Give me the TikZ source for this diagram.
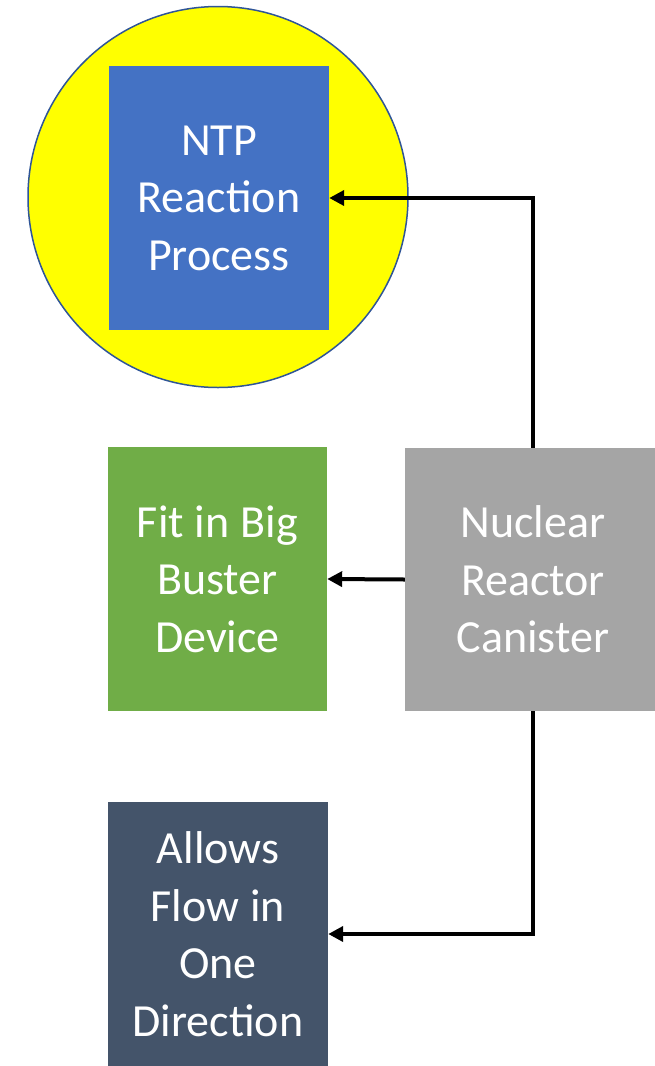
\documentclass[tikz,border=0pt]{standalone}
\usepackage{fontspec}
\setmainfont{Carlito}
\usetikzlibrary{arrows.meta,shapes.geometric}
\definecolor{procblue}{HTML}{4472C4}
\definecolor{fitgreen}{HTML}{70AD47}
\definecolor{canistergray}{HTML}{A5A5A5}
\definecolor{flowslate}{HTML}{44546A}
\definecolor{ringblue}{HTML}{2F5597}
\definecolor{ringfill}{HTML}{FFFF00}
% fixed word gap for the box labels
\newcommand{\wgap}{\hspace{0.24em}}
\tikzset{
  block/.style={inner sep=0pt, minimum width=220pt, minimum height=264pt,
    text=white, align=center, text width=210pt,
    font=\fontsize{46}{57.5}\selectfont},
  link/.style={line width=4pt, -{Triangle[length=15pt,width=15pt]}},
}
\begin{document}
\begin{tikzpicture}[x=1pt,y=-1pt]
  \useasboundingbox (0,0) rectangle (654,1066);
  % highlighted process
  \node[ellipse, draw=ringblue, line width=1.5pt, fill=ringfill,
        minimum width=380pt, minimum height=381pt, inner sep=0pt] (ring) at (218,197) {};
  \node[block, fill=procblue] (ntp) at (219,198) {NTP\\Reaction\\Process};
  % requirements
  \node[block, fill=fitgreen, minimum width=219pt] (fit) at (217.5,579) {Fit\wgap in\wgap Big\\Buster\\Device};
  \node[block, fill=flowslate] (flow) at (218,934) {Allows\\Flow\wgap in\\One\\Direction};
  % source (runs past the right edge)
  \node[block, fill=canistergray, minimum width=256pt, minimum height=263pt, text width=240pt]
        (can) at (533,579.5) {Nuclear\\Reactor\\Canister};
  % connectors
  \draw[link] (can.north) |- (ntp.east);
  \draw[link] (can.west) -- (fit.east);
  \draw[link] (can.south) |- (flow.east);
\end{tikzpicture}
\end{document}
